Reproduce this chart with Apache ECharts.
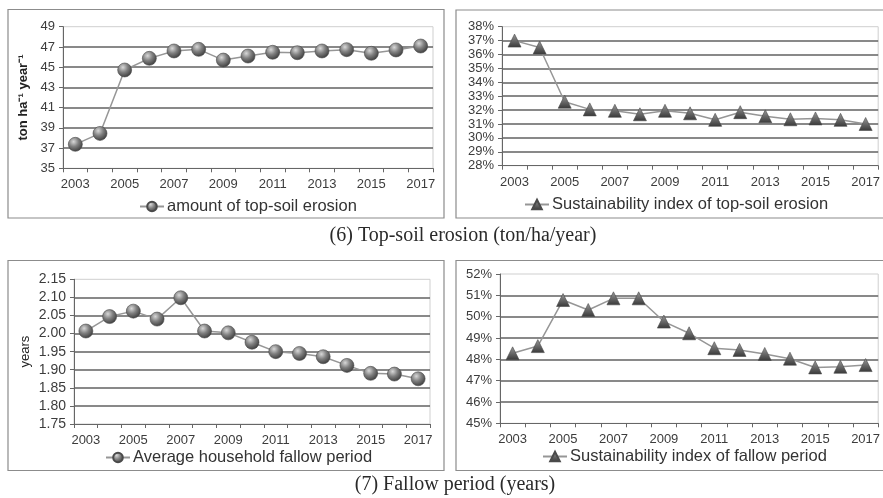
<!DOCTYPE html>
<html>
<head>
<meta charset="utf-8">
<script src="https://cdn.jsdelivr.net/npm/echarts@6/dist/echarts.min.js"></script>
<style>html,body{margin:0;padding:0;background:#fff;}#c{width:883px;height:498px;}</style>
</head>
<body>
<div id="c"></div>
<script>
const years = ['2003','2004','2005','2006','2007','2008','2009','2010','2011','2012','2013','2014','2015','2016','2017'];
const erosionAmount = [37.37, 38.45, 44.72, 45.87, 46.6, 46.76, 45.7, 46.1, 46.47, 46.43, 46.6, 46.73, 46.37, 46.7, 47.09];
const erosionIndex = [37.0, 36.5, 32.6, 32.05, 31.95, 31.7, 31.95, 31.77, 31.3, 31.85, 31.55, 31.34, 31.4, 31.3, 31.0];
const fallowPeriod = [2.007, 2.047, 2.062, 2.04, 2.099, 2.007, 2.002, 1.976, 1.95, 1.945, 1.936, 1.912, 1.89, 1.888, 1.875];
const fallowIndex = [48.28, 48.62, 50.78, 50.31, 50.86, 50.86, 49.77, 49.22, 48.52, 48.44, 48.25, 48.03, 47.62, 47.65, 47.73];
const seriesNames = ['amount of top-soil erosion','Sustainability index of top-soil erosion','Average household fallow period','Sustainability index of fallow period'];
const captions = ['(6) Top-soil erosion (ton/ha/year)','(7) Fallow period (years)'];

const chart = echarts.init(document.getElementById('c'), null, {renderer:'canvas'});
const font = 'Liberation Sans, Arial, sans-serif';
const labelColor = '#3c3c3c';
const gridLineColor = '#626262';

const grids = [
  {left:63, top:26.7, width:370, height:141.6},
  {left:502, top:26.7, width:379, height:139},
  {left:74, top:279.3, width:356, height:144.7},
  {left:500, top:274, width:380, height:149.3}
];

const xAxes = grids.map((g,i)=>({
  type:'category', gridIndex:i, data:years, boundaryGap:true,
  axisLine:{lineStyle:{color:'#666', width:1}},
  axisTick:{show:true, interval:0, length:4, lineStyle:{color:'#666'}},
  axisLabel:{interval:1, color:labelColor, fontFamily:font, fontSize:13, margin:10},
  splitLine:{show:false}
}));

function yAxis(i, min, max, interval, fmt, fs, name, bold, gap){
  return {
    type:'value', gridIndex:i, min:min, max:max, interval:interval,
    name:name||'', nameLocation:'middle', nameGap: gap||40, nameRotate:90,
    nameTextStyle:{fontFamily:font, fontSize:13, color:'#222', fontWeight:bold?'bold':'normal'},
    axisLine:{show:true, lineStyle:{color:'#666', width:1}},
    axisTick:{show:true, length:4, lineStyle:{color:'#666'}},
    axisLabel:{color:labelColor, fontFamily:font, fontSize:fs, margin:8, formatter:fmt},
    splitLine:{show:true, showMinLine:false, showMaxLine:false, lineStyle:{color:gridLineColor, width:1.5}}
  };
}

const yAxes = [
  yAxis(0, 35, 49, 2, v=>String(v), 13, 'ton ha\u207B\u00B9 year\u207B\u00B9', true, 33),
  yAxis(1, 28, 38, 1, v=>Math.round(v)+'%', 13),
  yAxis(2, 1.75, 2.15, 0.05, v=>v.toFixed(2), 14, 'years', false, 42),
  yAxis(3, 45, 52, 1, v=>Math.round(v)+'%', 13)
];

const sphere = {type:'radial', x:0.38, y:0.32, r:0.75, colorStops:[{offset:0,color:'#d8d8d8'},{offset:0.45,color:'#808080'},{offset:1,color:'#333333'}]};
const tri = {type:'linear', x:0, y:0, x2:0, y2:1, colorStops:[{offset:0,color:'#9a9a9a'},{offset:1,color:'#383838'}]};

const dataSets = [erosionAmount, erosionIndex, fallowPeriod, fallowIndex];
const series = dataSets.map((d,i)=>({
  name:seriesNames[i], type:'line', xAxisIndex:i, yAxisIndex:i, data:d,
  symbol: (i%2===0)?'circle':'triangle', symbolSize:(i%2===0)?14:13,
  showAllSymbol:true,
  lineStyle:{color:'#969696', width:1.5},
  itemStyle:{color:(i%2===0)?sphere:tri, borderColor:'#4a4a4a', borderWidth:0.6},
  emphasis:{disabled:true}, animation:false
}));

const legendPos = [
  {left:139, top:198},
  {left:524, top:196},
  {left:105, top:449},
  {left:542, top:448}
];
const legends = legendPos.map((p,i)=>({
  data:[seriesNames[i]], left:p.left, top:p.top, itemWidth:24, itemHeight:12, itemGap:0,
  textStyle:{fontFamily:font, fontSize:16.5, color:'#333', padding:[0,0,0,-2]},
  selectedMode:false, padding:0
}));

const boxStyle = {fill:'none', stroke:'#8c8c8c', lineWidth:1.2};
const graphic = [
  {type:'rect', shape:{x:8, y:9.5, width:436, height:208.5}, style:boxStyle, silent:true},
  {type:'rect', shape:{x:456, y:10, width:440, height:208}, style:boxStyle, silent:true},
  {type:'rect', shape:{x:8, y:260.5, width:436, height:210}, style:boxStyle, silent:true},
  {type:'rect', shape:{x:456, y:260.5, width:440, height:210}, style:boxStyle, silent:true},
  {type:'text', x:463, y:236, style:{text:captions[0], font:'20px "Liberation Serif", "Times New Roman", serif', fill:'#2a2a2a', textAlign:'center', textVerticalAlign:'middle'}, silent:true},
  {type:'text', x:455, y:485, style:{text:captions[1], font:'20px "Liberation Serif", "Times New Roman", serif', fill:'#2a2a2a', textAlign:'center', textVerticalAlign:'middle'}, silent:true}
];

chart.setOption({
  animation:false,
  backgroundColor:'#fff',
  grid: grids.map(g=>Object.assign({show:true, borderColor:'#cfcfcf', borderWidth:1, backgroundColor:'transparent', containLabel:false}, g)),
  xAxis:xAxes, yAxis:yAxes, series:series, legend:legends, graphic:graphic
});
</script>
</body>
</html>
